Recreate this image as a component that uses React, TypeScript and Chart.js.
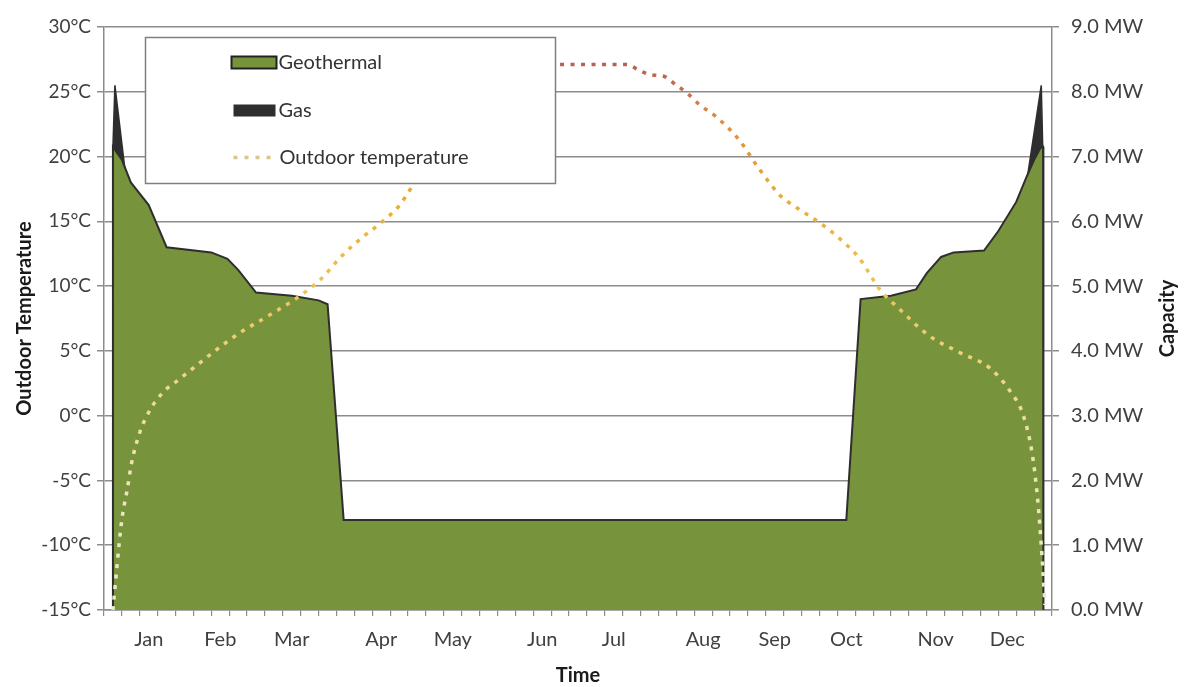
import React, { useEffect, useRef } from 'react';
import { Chart, registerables } from 'chart.js';

Chart.register(...registerables);

// ---- Data ----
const monthNames = ['Jan', 'Feb', 'Mar', 'Apr', 'May', 'Jun', 'Jul', 'Aug', 'Sep', 'Oct', 'Nov', 'Dec'];
const monthWeekSlots = [2, 6, 10, 15, 19, 24, 28, 33, 37, 41, 46, 50];
const weekCount = 53;

// Outdoor temperature (°C) by week position
const tempWeeks = [0.5, 0.7, 1.0, 1.3, 1.55, 2.0, 2.6, 3.3, 4.2, 5.2, 6.2, 7.6, 9.3, 10.9, 12.1, 13.2, 14.3, 15.4, 16.5, 17.8, 19.0, 20.5, 22.0, 23.5, 25.6, 29.2, 30.0, 30.6, 31.3, 32.0, 32.6, 33.3, 34.2, 35.5, 36.6, 37.8, 38.9, 40.0, 41.1, 42.2, 43.4, 44.5, 46.1, 47.8, 49.5, 50.6, 51.4, 51.9, 52.2, 52.45, 52.6];
const tempValues = [-15, -12, -8, -5.7, -3.6, -1.3, 0.5, 1.8, 2.8, 3.9, 5, 6.4, 7.8, 9.2, 10.5, 12.2, 13.6, 14.8, 16.2, 19, 21.5, 24, 26, 27, 27.1, 27.1, 26.6, 26.3, 26.2, 25.5, 24.9, 24.0, 23.1, 21.3, 19.1, 17.0, 15.9, 14.9, 13.7, 12.2, 9.7, 8.2, 6.2, 4.9, 3.7, 2.0, 0, -3, -6.5, -11, -14.6];

// Geothermal capacity (MW)
const geoWeeks = [0.45, 0.5, 1.0, 1.5, 2.5, 3.5, 6.0, 6.9, 7.5, 8.5, 10.5, 12.0, 12.5, 13.4, 41.5, 42.3, 44.0, 45.4, 46.0, 46.8, 47.5, 49.2, 50.0, 51.0, 51.6, 52.0, 52.35, 52.5, 52.52];
const geoValues = [0, 7.15, 6.95, 6.6, 6.25, 5.6, 5.52, 5.42, 5.25, 4.9, 4.85, 4.78, 4.72, 1.39, 1.39, 4.8, 4.85, 4.95, 5.2, 5.45, 5.52, 5.55, 5.85, 6.3, 6.7, 6.95, 7.13, 7.15, 0];

// Gas peak (total capacity incl. geothermal, MW)
const gasWeeks = [0.45, 0.5, 0.61, 1.15, 1.16, 51.65, 51.66, 52.4, 52.48, 52.5];
const gasValues = [0, 7.15, 8.1, 6.85, 0, 0, 6.75, 8.1, 7.15, 0];

const tempTickStep = 5;
const capTickStep = 1;

const weekLabels: string[] = Array.from({ length: weekCount }, () => '');
monthWeekSlots.forEach((slot, i) => { weekLabels[slot] = monthNames[i]; });

const FONT = 'Lato';
const GREEN = '#77933c';
const DARK = '#2e2e2e';

function toPoints(xs: number[], ys: number[]) {
  return xs.map((x, i) => ({ x, y: ys[i] }));
}

function tempGradient(chart: any) {
  const { ctx, chartArea, scales } = chart;
  if (!chartArea || !scales.yT) return '#e8a830';
  const y = scales.yT;
  const y0 = y.getPixelForValue(-15);
  const y1 = y.getPixelForValue(30);
  const g = ctx.createLinearGradient(0, y0, 0, y1);
  const stop = (t: number, c: string) => g.addColorStop((t + 15) / 45, c);
  stop(-15, '#e9ead0');
  stop(-3, '#ece3b0');
  stop(5, '#eed27a');
  stop(12, '#ecbc45');
  stop(18, '#e6a636');
  stop(23, '#d98c3e');
  stop(26, '#c06650');
  stop(30, '#a85252');
  return g;
}

const overlayPlugin = {
  id: 'overlay',
  afterDraw(chart: any) {
    const { ctx, chartArea } = chart;
    const ds = chart.data.datasets;
    ctx.save();
    // legend box
    const bx = chartArea.left + 41.5;
    const by = chartArea.top + 10.5;
    const bw = 410;
    const bh = 146;
    ctx.fillStyle = '#ffffff';
    ctx.fillRect(bx, by, bw, bh);
    ctx.strokeStyle = '#7f7f7f';
    ctx.lineWidth = 1.5;
    ctx.strokeRect(bx, by, bw, bh);

    const sx = bx + 86;
    const tx = bx + 133;
    const rows = [by + 25, by + 73, by + 120];
    // Geothermal swatch
    ctx.fillStyle = GREEN;
    ctx.fillRect(sx, rows[0] - 6, 45, 12);
    ctx.strokeStyle = '#222';
    ctx.lineWidth = 2;
    ctx.strokeRect(sx, rows[0] - 6, 45, 12);
    // Gas swatch
    ctx.fillStyle = DARK;
    ctx.fillRect(sx + 2, rows[1] - 6, 42, 12);
    // Temperature swatch
    ctx.strokeStyle = '#d8c88c';
    ctx.lineWidth = 3.5;
    ctx.setLineDash([4, 7]);
    ctx.beginPath();
    ctx.moveTo(sx + 2, rows[2]);
    ctx.lineTo(sx + 40, rows[2]);
    ctx.stroke();
    ctx.setLineDash([]);

    ctx.fillStyle = '#333333';
    ctx.font = `20px ${FONT}`;
    ctx.textBaseline = 'middle';
    ctx.textAlign = 'left';
    ctx.fillText(ds[1].label, tx, rows[0]);
    ctx.fillText(ds[2].label, tx, rows[1]);
    ctx.fillText(ds[0].label, tx + 1, rows[2]);

    // Right axis title (reads bottom-to-top)
    ctx.translate(chart.width - 18, (chartArea.top + chartArea.bottom) / 2);
    ctx.rotate(-Math.PI / 2);
    ctx.textAlign = 'center';
    ctx.fillStyle = '#1a1a1a';
    ctx.font = `bold 20px ${FONT}`;
    ctx.fillText('Capacity', 0, 0);
    ctx.restore();
  },
};

export default function App() {
  const canvasRef = useRef<HTMLCanvasElement | null>(null);

  useEffect(() => {
    if (!canvasRef.current) return;
    Chart.defaults.font.family = FONT;
    const chart = new Chart(canvasRef.current, {
      type: 'line',
      data: {
        datasets: [
          {
            label: 'Outdoor temperature',
            data: toPoints(tempWeeks, tempValues),
            xAxisID: 'xd',
            yAxisID: 'yT',
            borderColor: (c: any) => tempGradient(c.chart),
            borderWidth: 3.5,
            borderDash: [4, 6.5],
            pointRadius: 0,
            cubicInterpolationMode: 'monotone',
            fill: false,
          },
          {
            label: 'Geothermal',
            data: toPoints(geoWeeks, geoValues),
            xAxisID: 'xd',
            yAxisID: 'yC',
            borderColor: DARK,
            borderWidth: 2,
            backgroundColor: GREEN,
            pointRadius: 0,
            tension: 0,
            fill: 'origin',
          },
          {
            label: 'Gas',
            data: toPoints(gasWeeks, gasValues),
            xAxisID: 'xd',
            yAxisID: 'yC',
            borderColor: DARK,
            borderWidth: 1.5,
            backgroundColor: DARK,
            pointRadius: 0,
            tension: 0,
            fill: 'origin',
          },
        ],
      } as any,
      options: {
        animation: false,
        responsive: false,
        devicePixelRatio: 1,
        layout: { padding: { top: 27, left: 0, right: 0, bottom: 0 } },
        plugins: { legend: { display: false }, tooltip: { enabled: false } },
        scales: {
          xd: {
            type: 'linear',
            position: 'bottom',
            min: 0,
            max: weekCount,
            display: false,
          },
          xc: {
            type: 'category',
            position: 'bottom',
            labels: weekLabels,
            offset: true,
            grid: { offset: true, drawOnChartArea: false, drawTicks: true, tickLength: 6, color: '#8c8c8c', lineWidth: 1.2 },
            border: { display: true, color: '#8c8c8c', width: 1.5 },
            ticks: { autoSkip: false, maxRotation: 0, minRotation: 0, padding: 12, color: '#404040', font: { size: 20 } },
            title: { display: true, text: 'Time', color: '#1a1a1a', font: { size: 20, weight: 'bold', lineHeight: 1 }, padding: { top: 0, bottom: 1 } },
            afterFit: (s: any) => { s.height = 77; },
          },
          yT: {
            type: 'linear',
            position: 'left',
            min: -15,
            max: 30,
            ticks: { stepSize: tempTickStep, padding: 6, color: '#404040', font: { size: 19 }, callback: (v: any) => `${v}°C` },
            grid: { color: '#8c8c8c', lineWidth: 1.5, tickLength: 7, drawTicks: true },
            border: { display: true, color: '#8c8c8c', width: 1.5 },
            title: { display: true, text: 'Outdoor Temperature', color: '#1a1a1a', font: { size: 20, weight: 'bold', lineHeight: 1.2 }, padding: { top: 13, bottom: 0 } },
            afterFit: (s: any) => { s.width = 104; },
          },
          yC: {
            type: 'linear',
            position: 'right',
            min: 0,
            max: 9,
            ticks: { stepSize: capTickStep, padding: 12, color: '#404040', font: { size: 20 }, callback: (v: any) => `${Number(v).toFixed(1)} MW` },
            grid: { drawOnChartArea: false, drawTicks: true, tickLength: 7, color: '#8c8c8c', lineWidth: 1.5 },
            border: { display: true, color: '#8c8c8c', width: 1.5 },
            afterFit: (s: any) => { s.width = 134; },
          },
        },
      } as any,
      plugins: [overlayPlugin],
    });
    return () => chart.destroy();
  }, []);

  return (
    <div style={{ position: 'absolute', left: 0, top: 0, width: 1186, height: 687, background: '#fff' }}>
      <canvas ref={canvasRef} width={1186} height={687} style={{ display: 'block' }} />
    </div>
  );
}
